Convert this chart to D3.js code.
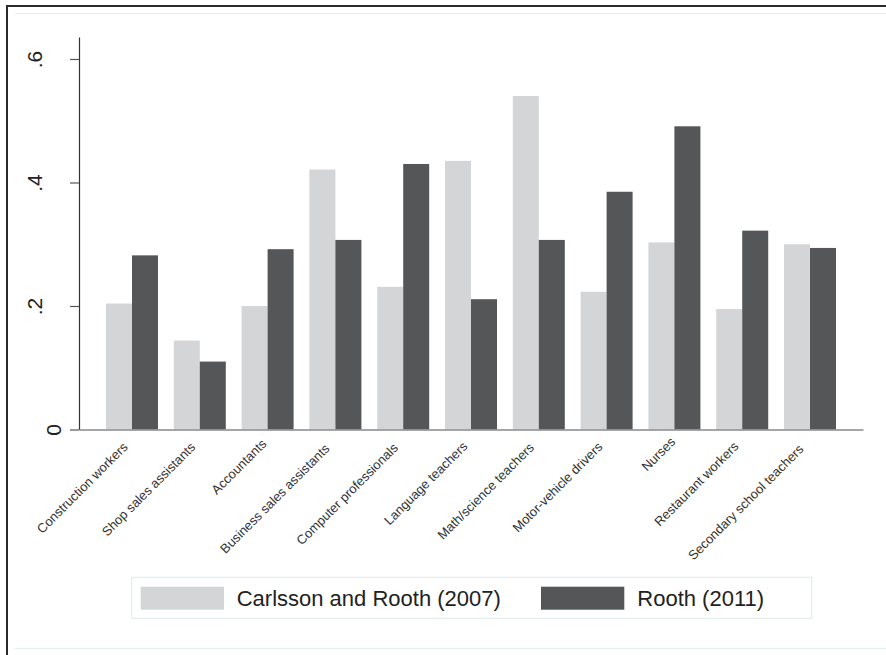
<!DOCTYPE html>
<html>
<head>
<meta charset="utf-8">
<script src="https://cdn.jsdelivr.net/npm/d3@7"></script>
<style>
  html, body { margin: 0; padding: 0; background: #fff; }
  svg { display: block; font-family: "Liberation Sans", Arial, sans-serif; }
</style>
</head>
<body>
<svg id="chart" width="886" height="655"></svg>
<script>
// ---- data ----
const categories = [
  "Construction workers", "Shop sales assistants", "Accountants",
  "Business sales assistants", "Computer professionals", "Language teachers",
  "Math/science teachers", "Motor-vehicle drivers", "Nurses",
  "Restaurant workers", "Secondary school teachers"
];
const seriesNames = ["Carlsson and Rooth (2007)", "Rooth (2011)"];
const carlsson2007 = [0.204, 0.144, 0.200, 0.421, 0.231, 0.435, 0.540, 0.223, 0.303, 0.195, 0.300];
const rooth2011   = [0.282, 0.110, 0.292, 0.307, 0.430, 0.211, 0.307, 0.385, 0.491, 0.322, 0.294];
const yTickValues = [0, 0.2, 0.4, 0.6];
const yTickLabels = ["0", ".2", ".4", ".6"];

// ---- layout ----
const W = 886, H = 655;
const plot = { left: 79, right: 863, top: 37, bottom: 429.5 };
const colors = ["#d4d5d7", "#555658"];

const svg = d3.select("#chart");

// frame
svg.append("rect").attr("x", 0).attr("y", 0).attr("width", W).attr("height", H).attr("fill", "#fff");
svg.append("line").attr("x1", 15).attr("x2", W).attr("y1", 13.5).attr("y2", 13.5)
  .attr("stroke", "#e3eeee").attr("stroke-width", 1.2);
svg.append("line").attr("x1", 15).attr("x2", W).attr("y1", 648.5).attr("y2", 648.5)
  .attr("stroke", "#e3eeee").attr("stroke-width", 1.2);
svg.append("line").attr("x1", 6).attr("x2", W).attr("y1", 6).attr("y2", 6)
  .attr("stroke", "#2a2a2a").attr("stroke-width", 2);
svg.append("line").attr("x1", 7).attr("x2", 7).attr("y1", 5).attr("y2", H)
  .attr("stroke", "#2a2a2a").attr("stroke-width", 2);

// scales
const x0 = d3.scaleBand().domain(categories).range([plot.left, plot.right])
  .paddingInner(0.233).paddingOuter(0.398);
const x1 = d3.scaleBand().domain(seriesNames).range([0, x0.bandwidth()]).padding(0);
const y = d3.scaleLinear().domain([0, 0.6356]).range([plot.bottom, plot.top]);

const seriesData = [carlsson2007, rooth2011];

// bars
seriesNames.forEach((name, si) => {
  svg.append("g").selectAll("rect")
    .data(categories.map((c, i) => ({ c, v: seriesData[si][i] })))
    .join("rect")
    .attr("x", d => x0(d.c) + x1(name))
    .attr("y", d => y(d.v))
    .attr("width", x1.bandwidth())
    .attr("height", d => y(0) - y(d.v))
    .attr("fill", colors[si]);
});

// y axis
const yAxis = svg.append("g")
  .attr("transform", `translate(${plot.left},0)`)
  .call(d3.axisLeft(y).tickValues(yTickValues)
    .tickFormat((d, i) => yTickLabels[i]).tickSize(9).tickSizeOuter(0));
yAxis.select(".domain").attr("stroke", "#333").attr("stroke-width", 1.2);
yAxis.selectAll(".tick line").attr("stroke", "#555").attr("stroke-width", 1.2);
yAxis.selectAll(".tick text")
  .attr("font-size", 21)
  .attr("fill", "#222")
  .attr("text-anchor", "middle")
  .attr("x", null).attr("dy", null)
  .attr("transform", function () {
    const t = d3.select(this).text();
    const cxLabel = 73 - t.length * 19 - plot.left; // relative to axis group
    return `translate(${cxLabel},0) rotate(-90)`;
  })
  .attr("dy", "0.35em");

// x axis
const xAxis = svg.append("g")
  .attr("transform", `translate(0,${plot.bottom})`)
  .call(d3.axisBottom(x0).tickSize(0).tickSizeOuter(0));
xAxis.select(".domain").attr("stroke", "#888").attr("stroke-width", 1.5);
xAxis.selectAll(".tick text")
  .attr("font-size", 13)
  .attr("fill", "#333")
  .attr("text-anchor", "end")
  .attr("y", null).attr("dy", null)
  .attr("transform", function () {
    const L = this.getComputedTextLength();
    const k = 0.063 * L;
    return `translate(${4.3 - k},${10.6 + k}) rotate(-45)`;
  });

// legend
const lg = svg.append("g");
lg.append("rect").attr("x", 131.7).attr("y", 577.3).attr("width", 680).attr("height", 41)
  .attr("fill", "#fff").attr("stroke", "#e2eded").attr("stroke-width", 1.2);
const legendItems = [
  { name: seriesNames[0], sx: 140.7, tx: 236.7, color: colors[0] },
  { name: seriesNames[1], sx: 541, tx: 637.3, color: colors[1] }
];
legendItems.forEach(it => {
  lg.append("rect").attr("x", it.sx).attr("y", 586.7).attr("width", 83.3).attr("height", 23)
    .attr("fill", it.color);
  lg.append("text").attr("x", it.tx).attr("y", 605.5)
    .attr("font-size", 22).attr("fill", "#222").text(it.name);
});
</script>
</body>
</html>
